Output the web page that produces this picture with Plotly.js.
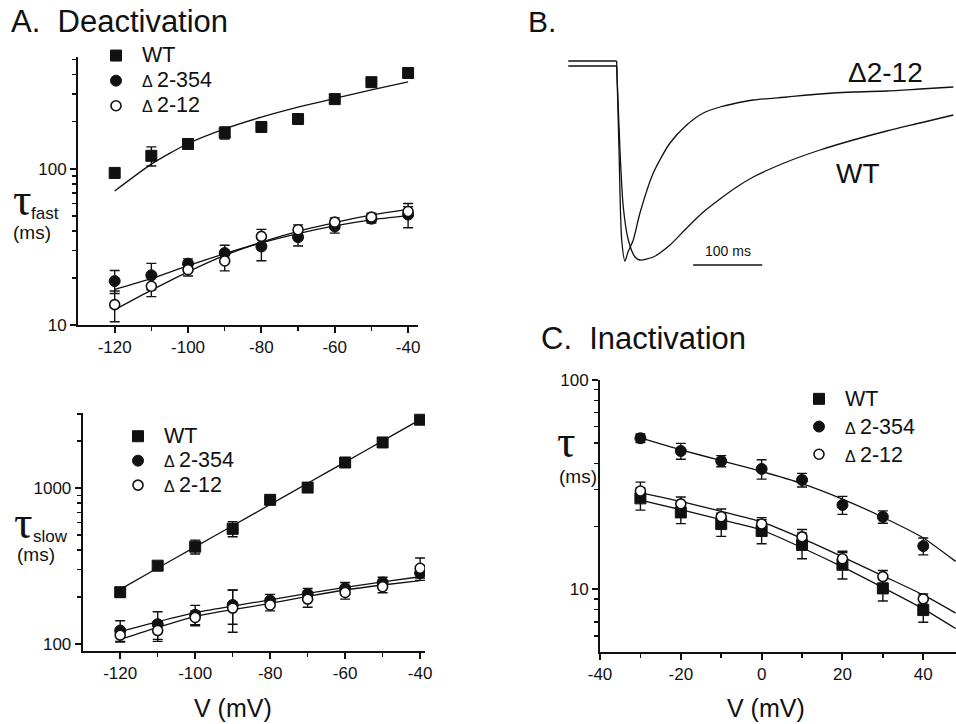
<!DOCTYPE html>
<html>
<head>
<meta charset="utf-8">
<script src="https://cdn.plot.ly/plotly-3.0.1.min.js"></script>
<style>html,body{margin:0;padding:0;background:#fff;overflow:hidden;}#chart{width:956px;height:724px;}</style>
</head>
<body>
<div id="chart"></div>
<script>
// ---------- DATA ----------
// Panel A: deactivation
const V_deact = [-120, -110, -100, -90, -80, -70, -60, -50, -40];
const fastWT      = [94, 121, 144, 170, 185, 208, 279, 358, 410];
const fastWT_err  = [5, 17, 8, 15, 10, 8, 18, 25, 25];
const fast354     = [19.1, 20.8, 24.7, 28.9, 31.8, 36.5, 42.7, 47.9, 50.9];
const fast354_err = [3.2, 4, 1.8, 3.5, 6, 4.5, 4, 3, 9];
const fast12      = [13.5, 17.7, 22.6, 25.7, 36.9, 40.7, 45.5, 49, 53.2];
const fast12_err  = [3, 2.5, 2, 3.5, 4, 3, 3, 3, 4];
const fitFastWT   = [72, 107, 145, 180, 214, 248, 282, 320, 360];
const fitFast354  = [16.9, 19.8, 24, 28.6, 33.6, 38.5, 43.1, 47.1, 50.1];
const fitFast12   = [12.5, 16.7, 21.9, 27.9, 33.9, 39.8, 45.2, 50.7, 55];

const slowWT      = [215, 318, 421, 548, 841, 1008, 1460, 1963, 2748];
const slowWT_err  = [15, 18, 43, 60, 45, 45, 50, 50, 60];
const slow354     = [122, 134, 154, 178, 190, 209, 228, 248, 285];
const slow354_err = [19, 27, 23, 44, 18, 18, 20, 20, 20];
const slow12      = [114, 122, 148, 170, 178, 194, 214, 233, 306];
const slow12_err  = [10, 18, 15, 51, 15, 22, 20, 20, 50];
const fitSlowWT   = [224, 307, 420, 574, 785, 1074, 1469, 2010, 2748];
const fitSlow354  = [120, 139, 159, 175, 192, 211, 231, 250, 270];
const fitSlow12   = [107, 128, 150, 166, 182, 202, 222, 239, 255];

// Panel B: current traces (normalised current vs time, ms)
const tB12  = [0, 70.1, 73.5, 77.4, 82.2, 86.5, 94.2, 103.9, 123.2, 147.4, 171.6, 195.7, 219.9, 244.1, 268.1, 316.5, 364.8, 413, 461.4, 509.7, 558];
const iB12  = [0, 0, -0.445, -0.895, -1.0, -0.955, -0.895, -0.76, -0.56, -0.41, -0.32, -0.26, -0.23, -0.21, -0.195, -0.18, -0.165, -0.155, -0.15, -0.14, -0.13];
const tBWT  = [0, 70.1, 74.9, 79.7, 87, 96.7, 103.9, 123.2, 147.4, 171.6, 195.7, 219.9, 244.1, 268.1, 316.5, 364.8, 413, 461.4, 509.7, 558];
const iBWT  = [-0.025, -0.025, -0.445, -0.73, -0.895, -0.98, -0.995, -0.98, -0.92, -0.835, -0.755, -0.69, -0.63, -0.58, -0.505, -0.445, -0.395, -0.35, -0.31, -0.27];
const scaleBarT = [181, 281];   // 100 ms scale bar
const scaleBarI = -1.02;

// Panel C: inactivation
const V_inact = [-30, -20, -10, 0, 10, 20, 30, 40];
const inWT      = [27.2, 23.3, 20.5, 19.0, 16.3, 13.1, 10.1, 7.96];
const inWT_err  = [3.3, 2.7, 2.6, 2.5, 2.3, 1.9, 1.3, 1.0];
const in354     = [52.7, 45.8, 41, 37.6, 33.3, 25.3, 22.2, 16.1];
const in354_err = [2.5, 4, 2.5, 4, 2.5, 2.5, 1.5, 1.5];
const in12      = [29.5, 25.6, 22.2, 20.5, 17.8, 14, 11.5, 9.0];
const in12_err  = [3, 2, 2, 1.5, 1.5, 1.2, 0.8, 0.5];
const V_fitC   = [-30, -20, -10, 0, 10, 20, 30, 40, 48];
const fitC354  = [52.9, 46.4, 41.2, 36.6, 32.0, 27.0, 22.1, 17.6, 13.6];
const fitC12   = [29.0, 26.3, 23.6, 21.0, 17.5, 14.3, 11.6, 9.4, 7.7];
const fitCWT   = [26.7, 24.0, 21.5, 19.2, 15.8, 12.8, 10.2, 8.07, 6.5];

const seriesLabels = ['WT', 'Δ2-354', 'Δ2-12'];
const deactTicks = [-120, -100, -80, -60, -40];
const deactTickText = ['-120', '-100', '-80', '-60', '-40'];
const inactTicks = [-40, -20, 0, 20, 40];
const inactTickText = ['-40', '-20', '0', '20', '40'];

// ---------- STYLE HELPERS ----------
const FONT = 'Liberation Sans, Arial, Helvetica, sans-serif';
const SERIF = 'Liberation Serif, Times New Roman, serif';
const W = 956, H = 724;
const px = v => v / W;
const py = v => 1 - v / H;

// legend label: bigger text than the legend's line spacing, small delta
function legendName(label) {
  const s = label.replace('Δ', '<span style="font-size:16px">Δ</span>\u2009');
  return '<span style="font-size:21.5px">\u00A0' + s + '</span>';
}

const markerStyles = [
  {symbol: 'square', size: 11, color: '#111', line: {color: '#111', width: 1}},
  {symbol: 'circle', size: 11, color: '#111', line: {color: '#111', width: 1}},
  {symbol: 'circle', size: 10, color: '#fff', line: {color: '#111', width: 1.6}}
];

function fitTrace(x, y, xa, ya) {
  return {x: x, y: y, xaxis: xa, yaxis: ya, mode: 'lines', type: 'scatter',
          line: {color: '#111', width: 1.3, shape: 'spline', smoothing: 0.6}, showlegend: false, hoverinfo: 'skip'};
}
function dataTrace(x, y, err, idx, xa, ya, leg) {
  return {x: x, y: y, xaxis: xa, yaxis: ya, mode: 'markers', type: 'scatter',
          name: legendName(seriesLabels[idx]), legend: leg, marker: markerStyles[idx],
          error_y: {type: 'data', array: err, visible: true, color: '#111', thickness: 1.4, width: 5}};
}
// baseline (holding) segment drawn straight, the current response drawn smooth
function currentTraces(t, i) {
  const base = {x: t.slice(0, 2), y: i.slice(0, 2), xaxis: 'x4', yaxis: 'y4', mode: 'lines', type: 'scatter',
          line: {color: '#111', width: 1.3}, showlegend: false, hoverinfo: 'skip'};
  const resp = {x: t.slice(1), y: i.slice(1), xaxis: 'x4', yaxis: 'y4', mode: 'lines', type: 'scatter',
          line: {color: '#111', width: 1.3, shape: 'spline', smoothing: 0.7}, showlegend: false, hoverinfo: 'skip'};
  return [base, resp];
}

const traces = [
  fitTrace(V_deact, fitFastWT, 'x', 'y'),
  fitTrace(V_deact, fitFast354, 'x', 'y'),
  fitTrace(V_deact, fitFast12, 'x', 'y'),
  dataTrace(V_deact, fastWT, fastWT_err, 0, 'x', 'y', 'legend'),
  dataTrace(V_deact, fast354, fast354_err, 1, 'x', 'y', 'legend'),
  dataTrace(V_deact, fast12, fast12_err, 2, 'x', 'y', 'legend'),

  fitTrace(V_deact, fitSlowWT, 'x2', 'y2'),
  fitTrace(V_deact, fitSlow354, 'x2', 'y2'),
  fitTrace(V_deact, fitSlow12, 'x2', 'y2'),
  dataTrace(V_deact, slowWT, slowWT_err, 0, 'x2', 'y2', 'legend2'),
  dataTrace(V_deact, slow354, slow354_err, 1, 'x2', 'y2', 'legend2'),
  dataTrace(V_deact, slow12, slow12_err, 2, 'x2', 'y2', 'legend2'),

  fitTrace(V_fitC, fitC354, 'x3', 'y3'),
  fitTrace(V_fitC, fitC12, 'x3', 'y3'),
  fitTrace(V_fitC, fitCWT, 'x3', 'y3'),
  dataTrace(V_inact, inWT, inWT_err, 0, 'x3', 'y3', 'legend3'),
  dataTrace(V_inact, in354, in354_err, 1, 'x3', 'y3', 'legend3'),
  dataTrace(V_inact, in12, in12_err, 2, 'x3', 'y3', 'legend3')
].concat(currentTraces(tBWT, iBWT), currentTraces(tB12, iB12));

function xAxis(domain, range, tv, tt, minorVals, anchor) {
  return {domain: domain, range: range, anchor: anchor, tickmode: 'array', tickvals: tv, ticktext: tt,
    ticks: 'outside', ticklen: 6, tickwidth: 2, tickcolor: '#111', showline: true, linewidth: 2, linecolor: '#111',
    showgrid: false, zeroline: false, tickfont: {family: FONT, size: 17, color: '#111'},
    minor: {tickmode: 'array', tickvals: minorVals, ticks: 'outside', ticklen: 4, tickwidth: 1.5, tickcolor: '#111', showgrid: false}};
}
function yAxis(domain, range, tv, tt, minorVals, anchor) {
  return {type: 'log', domain: domain, range: range, anchor: anchor, tickmode: 'array', tickvals: tv, ticktext: tt,
    ticks: 'outside', ticklen: 6, tickwidth: 2, tickcolor: '#111', showline: true, linewidth: 2, linecolor: '#111',
    showgrid: false, zeroline: false, tickfont: {family: FONT, size: 17, color: '#111'},
    minor: {tickmode: 'array', tickvals: minorVals, ticks: 'outside', ticklen: 4, tickwidth: 1.5, tickcolor: '#111', showgrid: false}};
}

function ann(text, x, y, size, opts) {
  return Object.assign({text: text, x: px(x), y: py(y), xref: 'paper', yref: 'paper', showarrow: false,
    xanchor: 'center', yanchor: 'middle', font: {family: FONT, size: size, color: '#111'}}, opts || {});
}
function tauAnn(x, y) {
  return ann('τ', x, y, 46, {font: {family: SERIF, size: 46, color: '#111'}});
}

const legendBase = {bgcolor: 'rgba(0,0,0,0)', xanchor: 'left', yanchor: 'top', itemwidth: 30, tracegroupgap: 0};

const layout = {
  width: W, height: H, margin: {l: 0, r: 0, t: 0, b: 0},
  paper_bgcolor: '#fff', plot_bgcolor: '#fff', showlegend: true,
  xaxis: xAxis([px(78), px(418)], [-130, -37.3], deactTicks, deactTickText, [-110, -90, -70, -50], 'y'),
  yaxis: yAxis([py(325), py(57)], [1, 2.715], [10, 100], ['10', '100'], [20, 30, 40, 50, 60, 70, 80, 90, 200, 300, 400, 500], 'x'),
  xaxis2: xAxis([px(82.7), px(425)], [-130, -38.7], deactTicks, deactTickText, [-110, -90, -70, -50], 'y2'),
  yaxis2: yAxis([py(650.7), py(413.3)], [1.957, 3.48], [100, 1000], ['100', '1000'], [200, 300, 400, 500, 600, 700, 800, 900, 2000, 3000], 'x2'),
  xaxis3: xAxis([px(600), 1], [-40, 48.1], inactTicks, inactTickText, [-30, -10, 10, 30], 'y3'),
  yaxis3: yAxis([py(651.7), py(380)], [0.702, 2], [10, 100], ['10', '100'], [6, 7, 8, 9, 20, 30, 40, 50, 60, 70, 80, 90], 'x3'),
  xaxis4: {domain: [px(560), 1], range: [-12.0, 561.9], visible: false, anchor: 'y4'},
  yaxis4: {domain: [py(280), py(50)], range: [-1.095, 0.055], visible: false, anchor: 'x4'},
  legend:  Object.assign({}, legendBase, {x: px(96), y: py(38), font: {family: FONT, size: 17, color: '#111'}}),
  legend2: Object.assign({}, legendBase, {x: px(118), y: py(419), font: {family: FONT, size: 16.5, color: '#111'}}),
  legend3: Object.assign({}, legendBase, {x: px(799), y: py(380), font: {family: FONT, size: 19, color: '#111'}}),
  shapes: [
    {type: 'line', xref: 'x4', yref: 'y4', x0: scaleBarT[0], x1: scaleBarT[1], y0: scaleBarI, y1: scaleBarI,
     line: {color: '#111', width: 1.3}}
  ],
  annotations: [
    ann('A.\u00A0 Deactivation', 9, 22, 31, {xanchor: 'left'}),
    ann('B.', 526, 22, 30, {xanchor: 'left'}),
    ann('C.\u00A0 Inactivation', 539, 338, 31, {xanchor: 'left'}),
    tauAnn(22, 200),
    ann('fast', 45, 214, 17),
    ann('(ms)', 32, 233, 19),
    tauAnn(23, 522),
    ann('slow', 50, 536, 17),
    ann('(ms)', 36, 554, 19),
    tauAnn(566, 441),
    ann('(ms)', 578, 476, 19),
    ann('V (mV)', 233, 708, 25),
    ann('V (mV)', 766, 708, 25),
    {text: 'Δ2-12', x: 460.4, y: -0.055, xref: 'x4', yref: 'y4', showarrow: false, xanchor: 'center', yanchor: 'middle',
     font: {family: FONT, size: 28, color: '#111'}},
    {text: 'WT', x: 419.9, y: -0.56, xref: 'x4', yref: 'y4', showarrow: false, xanchor: 'center', yanchor: 'middle',
     font: {family: FONT, size: 28, color: '#111'}},
    {text: '100 ms', x: 231, y: -0.95, xref: 'x4', yref: 'y4', showarrow: false, xanchor: 'center', yanchor: 'middle',
     font: {family: FONT, size: 14, color: '#111'}}
  ]
};

Plotly.newPlot('chart', traces, layout, {staticPlot: true, displayModeBar: false});
</script>
</body>
</html>
